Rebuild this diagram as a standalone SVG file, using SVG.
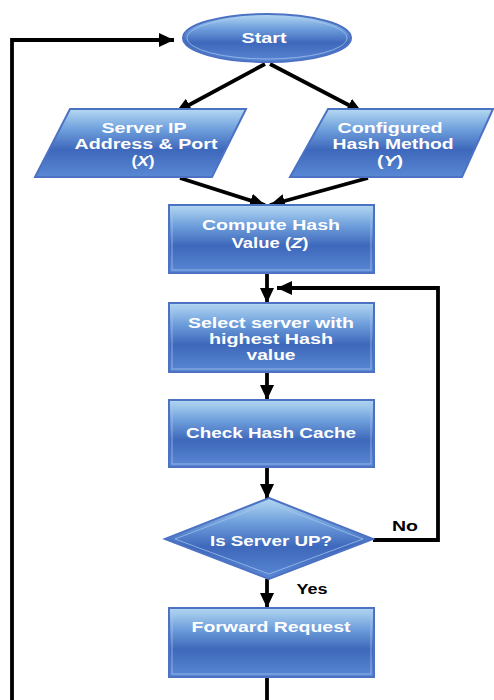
<svg xmlns="http://www.w3.org/2000/svg" width="494" height="700" viewBox="0 0 494 700">
<defs>
<linearGradient id="g" x1="0" y1="0" x2="0" y2="1">
<stop offset="0" stop-color="#b4d9f2"/>
<stop offset="0.3" stop-color="#6f9fdc"/>
<stop offset="0.6" stop-color="#3e68bb"/>
<stop offset="1" stop-color="#5a88d4"/>
</linearGradient>
<marker id="ah" markerUnits="userSpaceOnUse" markerWidth="16" markerHeight="14" refX="15" refY="7" orient="auto">
<path d="M0,0 L15,7 L0,14 Z" fill="#000"/>
</marker>
<style>
.n{fill:url(#g);stroke:#4d72c4;stroke-width:2}
.in{fill:none;stroke:#a9c8f0;stroke-width:1;opacity:0.7}
.t{font-family:"Liberation Sans",Arial,sans-serif;font-weight:bold;font-size:14px;fill:#fff;text-anchor:middle}
.l{font-family:"Liberation Sans",Arial,sans-serif;font-weight:bold;font-size:14px;fill:#000;text-anchor:middle}
.c{fill:none;stroke:#000;stroke-width:3.8}
</style>
</defs>
<g id="connectors">
<path class="c" d="M12,700 L12,40 L174,40" marker-end="url(#ah)"/>
<path class="c" d="M265,64 L176,112" marker-end="url(#ah)"/>
<path class="c" d="M270,64 L362,112" marker-end="url(#ah)"/>
<path class="c" d="M180,178 L265,205" marker-end="url(#ah)"/>
<path class="c" d="M368,178 L270,205" marker-end="url(#ah)"/>
<path class="c" d="M267,273 L267,303" marker-end="url(#ah)"/>
<path class="c" d="M373,540 L438,540 L438,288 L277,288" marker-end="url(#ah)"/>
<path class="c" d="M267,372 L267,400" marker-end="url(#ah)"/>
<path class="c" d="M267,467 L267,499" marker-end="url(#ah)"/>
<path class="c" d="M267,579 L267,608" marker-end="url(#ah)"/>
<path class="c" d="M267,677 L267,700"/>
<text class="l" x="405" y="531" textLength="26" lengthAdjust="spacingAndGlyphs">No</text>
<text class="l" x="312" y="594" textLength="31" lengthAdjust="spacingAndGlyphs">Yes</text>
</g>
<g id="start">
<ellipse class="n" cx="267" cy="38" rx="84" ry="24"/>
<ellipse class="in" cx="267" cy="38" rx="80" ry="21"/>
<text class="t" x="264" y="43" textLength="45" lengthAdjust="spacingAndGlyphs">Start</text>
</g>
<g id="serverip">
<polygon class="n" points="70,109 246,109 212,177 35,177"/>
<text class="t" x="144" y="133" textLength="85" lengthAdjust="spacingAndGlyphs">Server IP</text>
<text class="t" x="146" y="149" textLength="143" lengthAdjust="spacingAndGlyphs">Address &amp; Port</text>
<text class="t" x="143" y="166" textLength="23" lengthAdjust="spacingAndGlyphs">(<tspan font-style="italic">X</tspan>)</text>
</g>
<g id="hashmethod">
<polygon class="n" points="328,109 493,109 462,177 290,177"/>
<text class="t" x="390" y="133" textLength="105" lengthAdjust="spacingAndGlyphs">Configured</text>
<text class="t" x="393" y="149" textLength="121" lengthAdjust="spacingAndGlyphs">Hash Method</text>
<text class="t" x="390" y="166" textLength="26" lengthAdjust="spacingAndGlyphs">(<tspan font-style="italic">Y</tspan>)</text>
</g>
<g id="compute">
<rect class="n" x="169" y="205" width="205" height="68"/>
<rect class="in" x="172" y="208" width="199" height="62"/>
<text class="t" x="271" y="230" textLength="138" lengthAdjust="spacingAndGlyphs">Compute Hash</text>
<text class="t" x="270" y="248" textLength="77" lengthAdjust="spacingAndGlyphs">Value (<tspan font-style="italic">Z</tspan>)</text>
</g>
<g id="select">
<rect class="n" x="169" y="303" width="205" height="69"/>
<rect class="in" x="172" y="306" width="199" height="63"/>
<text class="t" x="271" y="328" textLength="166" lengthAdjust="spacingAndGlyphs">Select server with</text>
<text class="t" x="271" y="344" textLength="124" lengthAdjust="spacingAndGlyphs">highest Hash</text>
<text class="t" x="271" y="360" textLength="49" lengthAdjust="spacingAndGlyphs">value</text>
</g>
<g id="check">
<rect class="n" x="169" y="400" width="205" height="67"/>
<rect class="in" x="172" y="403" width="199" height="61"/>
<text class="t" x="271" y="438" textLength="170" lengthAdjust="spacingAndGlyphs">Check Hash Cache</text>
</g>
<g id="isup">
<polygon class="n" points="269,498 373,539 269,579 165,539"/>
<polygon class="in" points="269,503 363,539 269,574 175,539"/>
<text class="t" x="271" y="546" textLength="122" lengthAdjust="spacingAndGlyphs">Is Server UP?</text>
</g>
<g id="forward">
<rect class="n" x="169" y="608" width="205" height="69"/>
<rect class="in" x="172" y="611" width="199" height="63"/>
<text class="t" x="271" y="632" textLength="159" lengthAdjust="spacingAndGlyphs">Forward Request</text>
</g>
</svg>
